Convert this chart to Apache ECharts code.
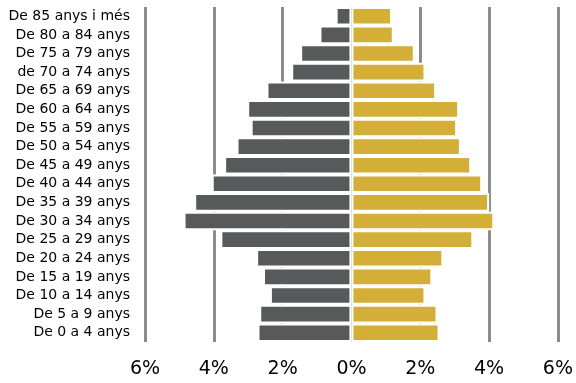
<!DOCTYPE html>
<html style="height: 100%">
<head>
  <meta charset="utf-8">
</head>
<body style="height: 100%; margin: 0">
  <div id="container" style="width: 576px; height: 383px"></div>
  <script type="text/javascript" src="https://cdn.jsdelivr.net/npm/echarts/dist/echarts.min.js"></script>
  <script type="text/javascript">
    // grups d'edat, de baix a dalt
    var edats = ['De 0 a 4 anys', 'De 5 a 9 anys', 'De 10 a 14 anys', 'De 15 a 19 anys',
      'De 20 a 24 anys', 'De 25 a 29 anys', 'De 30 a 34 anys', 'De 35 a 39 anys',
      'De 40 a 44 anys', 'De 45 a 49 anys', 'De 50 a 54 anys', 'De 55 a 59 anys',
      'De 60 a 64 anys', 'De 65 a 69 anys', 'de 70 a 74 anys', 'De 75 a 79 anys',
      'De 80 a 84 anys', 'De 85 anys i més'];
    // % homes (es dibuixa a l'esquerra)
    var homes = [2.73, 2.68, 2.37, 2.57, 2.77, 3.81, 4.88, 4.57, 4.06, 3.70,
      3.34, 2.93, 3.03, 2.47, 1.75, 1.49, 0.93, 0.46];
    // % dones
    var dones = [2.56, 2.50, 2.15, 2.35, 2.67, 3.54, 4.15, 4.00, 3.80, 3.48,
      3.18, 3.07, 3.13, 2.46, 2.15, 1.84, 1.23, 1.18];

    var myChart = echarts.init(document.getElementById('container'));
    var font = 'DejaVu Sans, Verdana, sans-serif';

    var option = {
      animation: false,
      grid: { left: 145, right: 16, top: 7, bottom: 41 },
      xAxis: {
        type: 'value',
        min: -6, max: 6, interval: 2,
        z: 0,
        axisLine: { show: false },
        axisTick: { show: false },
        axisLabel: {
          margin: 18,
          fontSize: 19,
          fontFamily: font,
          color: '#000',
          formatter: function (v) { return Math.abs(v) + '%'; }
        },
        splitLine: {
          show: true,
          lineStyle: { color: '#8c8c8c', width: 3 }
        }
      },
      yAxis: {
        type: 'category',
        data: edats,
        axisLine: { show: false },
        axisTick: { show: false },
        axisLabel: {
          margin: 15,
          fontSize: 14,
          fontFamily: font,
          color: '#000'
        }
      },
      series: [
        {
          name: 'Homes',
          type: 'bar',
          z: 10,
          data: homes.map(function (v) { return -v; }),
          barCategoryGap: '0%',
          barGap: '-100%',
          itemStyle: { color: '#58595b', borderColor: '#fff', borderWidth: 2 }
        },
        {
          name: 'Dones',
          type: 'bar',
          z: 10,
          data: dones,
          barCategoryGap: '0%',
          itemStyle: { color: '#d4af37', borderColor: '#fff', borderWidth: 2 }
        }
      ]
    };
    myChart.setOption(option);
  </script>
</body>
</html>
